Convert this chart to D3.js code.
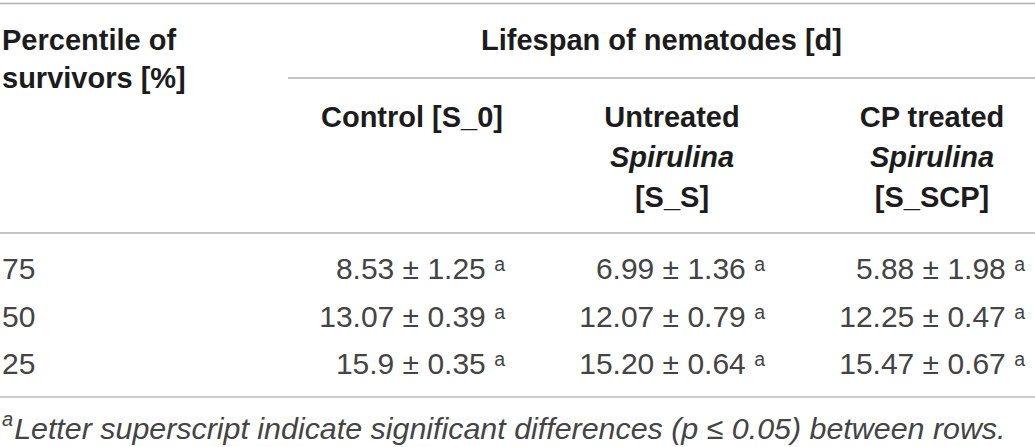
<!DOCTYPE html>
<html>
<head>
<meta charset="utf-8">
<script src="https://cdn.jsdelivr.net/npm/d3@7"></script>
<style>
  body { margin: 0; background: #fff; }
  svg { display: block; font-family: "Liberation Sans", Arial, Helvetica, sans-serif; }
</style>
</head>
<body>
<svg id="table"></svg>
<script>
// table content
const percentiles = ["75", "50", "25"];
const groups = ["control", "untreated", "cp"];
const groupHeaders = [
  [{ t: "Control [S_0]" }],
  [{ t: "Untreated" }, { t: "Spirulina", italic: true }, { t: "[S_S]" }],
  [{ t: "CP treated" }, { t: "Spirulina", italic: true }, { t: "[S_SCP]" }],
];
const rowHeader = ["Percentile of", "survivors [%]"];
const spanTitle = "Lifespan of nematodes [d]";

const controlMean = ["8.53", "13.07", "15.9"];
const controlSd = ["1.25", "0.39", "0.35"];
const untreatedMean = ["6.99", "12.07", "15.20"];
const untreatedSd = ["1.36", "0.79", "0.64"];
const cpMean = ["5.88", "12.25", "15.47"];
const cpSd = ["1.98", "0.47", "0.67"];
const letters = ["a", "a", "a"];

const footLetter = "a";
const footText = "Letter superscript indicate significant differences (p \u2264 0.05) between rows.";

const width = 1035,
  height = 447;

const svg = d3.select("#table").attr("width", width).attr("height", height);

// columns for the three diets, rows for the percentiles
const xCol = d3.scaleBand().domain(groups).range([282, 1062]);
const yRow = d3.scalePoint().domain(percentiles).range([279, 374]);
const valuePad = 37; // right padding inside each column

const ruleColor = "#b0b0b0";

// horizontal rules
svg.append("line")
  .attr("x1", 0).attr("x2", width)
  .attr("y1", 3.5).attr("y2", 3.5)
  .attr("stroke", ruleColor).attr("stroke-width", 1.5);
svg.append("line")
  .attr("x1", 288).attr("x2", width)
  .attr("y1", 78).attr("y2", 78)
  .attr("stroke", ruleColor).attr("stroke-width", 1.5);
svg.append("line")
  .attr("x1", 0).attr("x2", width)
  .attr("y1", 233).attr("y2", 233)
  .attr("stroke", ruleColor).attr("stroke-width", 1.5);
svg.append("line")
  .attr("x1", 0).attr("x2", width)
  .attr("y1", 397).attr("y2", 397)
  .attr("stroke", "#cccccc").attr("stroke-width", 2);

// header, first column
svg.append("g")
  .selectAll("text")
  .data(rowHeader)
  .join("text")
  .attr("x", 2)
  .attr("y", (d, i) => 50 + i * 38)
  .attr("font-size", 29)
  .attr("font-weight", "bold")
  .attr("fill", "#1c1c1c")
  .text((d) => d);

// spanning title
svg.append("text")
  .attr("x", (288 + width) / 2)
  .attr("y", 50)
  .attr("text-anchor", "middle")
  .attr("font-size", 29)
  .attr("font-weight", "bold")
  .attr("fill", "#1c1c1c")
  .text(spanTitle);

// group headers
const headG = svg.append("g")
  .selectAll("g")
  .data(groups)
  .join("g")
  .attr("transform", (d) => `translate(${xCol(d) + xCol.bandwidth() / 2},0)`);

headG.selectAll("text")
  .data((d, i) => groupHeaders[i])
  .join("text")
  .attr("y", (d, i) => 127 + i * 40)
  .attr("text-anchor", "middle")
  .attr("font-size", 29)
  .attr("font-weight", "bold")
  .attr("font-style", (d) => (d.italic ? "italic" : "normal"))
  .attr("fill", "#1c1c1c")
  .text((d) => d.t);

// body rows
const means = [controlMean, untreatedMean, cpMean];
const sds = [controlSd, untreatedSd, cpSd];
const bodyColor = "#444444";

svg.append("g")
  .selectAll("text")
  .data(percentiles)
  .join("text")
  .attr("x", 2)
  .attr("y", (d) => yRow(d))
  .attr("font-size", 30)
  .attr("fill", bodyColor)
  .text((d) => d);

const cells = [];
groups.forEach((g, gi) => {
  percentiles.forEach((p, pi) => {
    cells.push({ g: g, p: p, mean: means[gi][pi], sd: sds[gi][pi], letter: letters[pi] });
  });
});

const cellText = svg.append("g")
  .selectAll("text")
  .data(cells)
  .join("text")
  .attr("x", (d) => xCol(d.g) + xCol.bandwidth() - valuePad)
  .attr("y", (d) => yRow(d.p))
  .attr("text-anchor", "end")
  .attr("font-size", 30)
  .attr("fill", bodyColor);

cellText.append("tspan").text((d) => `${d.mean} \u00b1 ${d.sd} `);
cellText.append("tspan")
  .attr("dy", -8)
  .attr("font-size", 19.5)
  .text((d) => d.letter);

// footnote
const foot = svg.append("text")
  .attr("x", 2)
  .attr("y", 439)
  .attr("font-size", 30.4)
  .attr("font-style", "italic")
  .attr("fill", bodyColor);
foot.append("tspan")
  .attr("dy", -13)
  .attr("font-size", 20)
  .text(footLetter);
foot.append("tspan")
  .attr("dy", 13)
  .attr("dx", 1)
  .text(footText);
</script>
</body>
</html>
